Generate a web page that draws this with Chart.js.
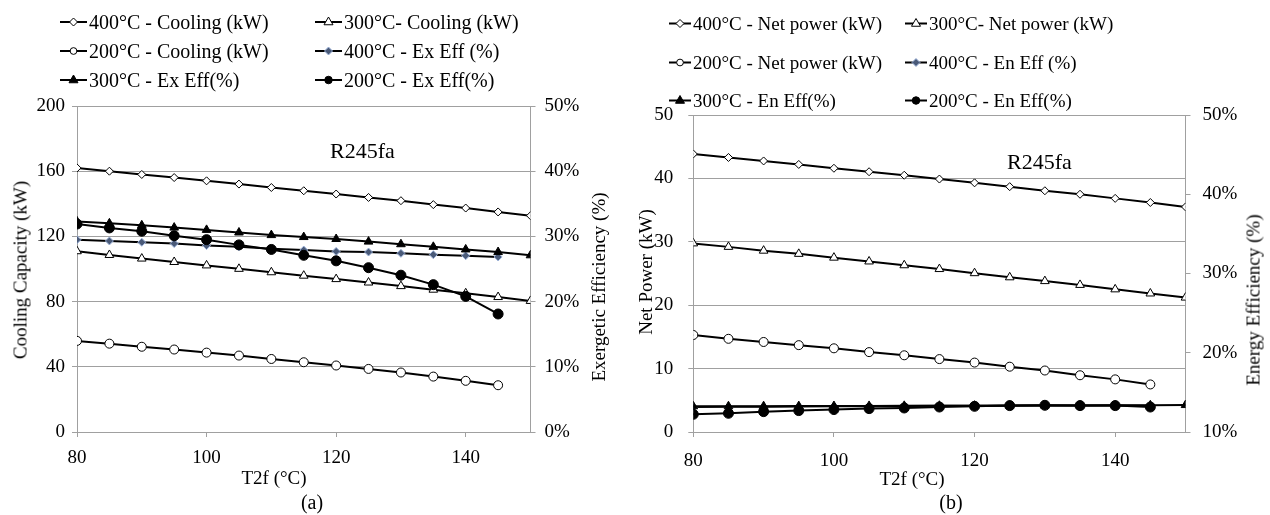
<!DOCTYPE html>
<html>
<head>
<meta charset="utf-8">
<script src="https://cdn.jsdelivr.net/npm/chart.js@4.4.1/dist/chart.umd.min.js"></script>
<style>
  html,body{margin:0;padding:0;background:#fff;}
  #wrap{position:relative;width:1270px;height:515px;overflow:hidden;background:#fff;font-family:"Liberation Serif","Times New Roman",serif;color:#000;}
  canvas{position:absolute;top:0;}
  .t{position:absolute;white-space:nowrap;font-size:19px;line-height:1;}
  .c{transform:translate(-50%,-50%);}
  .rot{transform:translate(-50%,-50%) rotate(-90deg);}
  .leg{position:absolute;display:flex;align-items:center;white-space:nowrap;font-size:20px;line-height:1;transform:translateY(-50%);}
  .leg svg{display:block;margin-right:2px;}
</style>
</head>
<body>
<div id="wrap">
  <canvas id="ca" width="635" height="515" style="left:0;width:635px;height:515px"></canvas>
  <canvas id="cb" width="635" height="515" style="left:635px;width:635px;height:515px"></canvas>
</div>
<script>
// ---------------- DATA ----------------
const t2f = [80, 85, 90, 95, 100, 105, 110, 115, 120, 125, 130, 135, 140, 145, 150];

// Panel (a)
const cooling400 = [162, 160, 158, 156.1, 154.1, 152.1, 150, 148, 146, 143.9, 141.9, 139.5, 137.4, 135, 132.7];
const cooling300 = [110.9, 108.6, 106.4, 104.3, 102.2, 100.1, 98.0, 95.9, 93.8, 91.7, 89.5, 87.3, 85.1, 82.8, 80.4];
const cooling200 = [55.9, 54.2, 52.3, 50.6, 48.7, 46.9, 44.8, 42.8, 40.8, 38.7, 36.5, 34.0, 31.4, 28.7];
const exEff400 = [29.5, 29.3, 29.1, 28.9, 28.6, 28.4, 28.1, 27.9, 27.7, 27.6, 27.4, 27.2, 27.05, 26.85];
const exEff300 = [32.3, 32.0, 31.7, 31.35, 31.0, 30.6, 30.2, 29.9, 29.6, 29.2, 28.8, 28.4, 28.0, 27.6, 27.1];
const exEff200 = [31.9, 31.3, 30.8, 30.1, 29.5, 28.7, 28.0, 27.1, 26.25, 25.2, 24.05, 22.6, 20.8, 18.1];

// Panel (b)
const netPower400 = [43.85, 43.3, 42.75, 42.2, 41.6, 41.05, 40.5, 39.9, 39.3, 38.7, 38.05, 37.5, 36.85, 36.2, 35.5];
const netPower300 = [29.75, 29.2, 28.6, 28.1, 27.5, 26.9, 26.3, 25.7, 25.05, 24.4, 23.8, 23.2, 22.5, 21.85, 21.2];
const netPower200 = [15.3, 14.7, 14.2, 13.7, 13.2, 12.6, 12.1, 11.5, 10.95, 10.3, 9.7, 8.95, 8.3, 7.5];
const enEff400 = [13.15, 13.18, 13.2, 13.22, 13.24, 13.26, 13.28, 13.3, 13.31, 13.32, 13.33, 13.34, 13.34, 13.3];
const enEff300 = [13.24, 13.25, 13.26, 13.27, 13.28, 13.29, 13.3, 13.31, 13.32, 13.33, 13.34, 13.35, 13.36, 13.37, 13.4];
const enEff200 = [12.23, 12.36, 12.57, 12.7, 12.83, 12.95, 13.03, 13.15, 13.24, 13.33, 13.37, 13.33, 13.33, 13.15];

// Axis ticks / labels
const xTicks = {min: 80, max: 150, step: 20};
const yA = {min: 0, max: 200, step: 40};
const yA2 = {min: 0, max: 50, step: 10};
const yB = {min: 0, max: 50, step: 10};
const yB2 = {min: 10, max: 50, step: 10};

const labelsA = ['400°C - Cooling (kW)', '300°C- Cooling (kW)', '200°C - Cooling (kW)', '400°C - Ex Eff (%)', '300°C - Ex Eff(%)', '200°C - Ex Eff(%)'];
const labelsB = ['400°C - Net power (kW)', '300°C- Net power (kW)', '200°C - Net power (kW)', '400°C - En Eff (%)', '300°C - En Eff(%)', '200°C - En Eff(%)'];

// ---------------- STYLES ----------------
const FONT = '"Liberation Serif", "Times New Roman", serif';
Chart.defaults.font.family = FONT;
Chart.defaults.font.size = 19;
Chart.defaults.color = '#000';
const GRID = '#a0a0a0';

const markerStyles = [
  {shape: 'rectRot', r: 4, fill: '#ffffff', stroke: '#000000'},
  {shape: 'triangle', r: 5, fill: '#ffffff', stroke: '#000000'},
  {shape: 'circle', r: 4.5, fill: '#ffffff', stroke: '#000000'},
  {shape: 'rectRot', r: 4, fill: '#4a5a78', stroke: '#9db3da'},
  {shape: 'triangle', r: 5, fill: '#000000', stroke: '#000000'},
  {shape: 'circle', r: 5, fill: '#000000', stroke: '#000000'}
];
const yAxisOf = ['y', 'y', 'y', 'y1', 'y1', 'y1'];

function pts(vals) { return vals.map((v, i) => ({x: t2f[i], y: v})); }

function makeDatasets(series, labels) {
  return series.map((vals, i) => ({
    label: labels[i],
    data: pts(vals),
    yAxisID: yAxisOf[i],
    borderColor: '#000',
    borderWidth: 2,
    tension: 0,
    fill: false,
    pointStyle: markerStyles[i].shape,
    pointRadius: markerStyles[i].r,
    pointHoverRadius: markerStyles[i].r,
    pointBackgroundColor: markerStyles[i].fill,
    pointBorderColor: markerStyles[i].stroke,
    pointBorderWidth: 1,
    order: 6 - i
  }));
}

function makeOptions(o) {
  return {
    responsive: false,
    animation: false,
    events: [],
    layout: {padding: {top: o.top, left: 0, right: 0, bottom: 0}},
    plugins: {legend: {display: false}, tooltip: {enabled: false}},
    scales: {
      x: {
        type: 'linear', min: xTicks.min, max: xTicks.max,
        ticks: {stepSize: xTicks.step, includeBounds: false, padding: o.xPad, maxRotation: 0, autoSkip: false},
        grid: {drawOnChartArea: false, drawTicks: true, tickLength: 5, color: GRID},
        border: {color: GRID, width: 1},
        afterFit: s => { s.height = o.xH; }
      },
      y: {
        position: 'left', min: o.yl.min, max: o.yl.max,
        ticks: {stepSize: o.yl.step, padding: o.ylPad},
        grid: {color: GRID, tickLength: 5, lineWidth: 1},
        border: {color: GRID, width: 1},
        afterFit: s => { s.width = o.ylW; }
      },
      y1: {
        position: 'right', min: o.yr.min, max: o.yr.max,
        ticks: {stepSize: o.yr.step, padding: o.yrPad, callback: v => v + '%'},
        grid: {drawOnChartArea: false, color: GRID, tickLength: 5},
        border: {color: GRID, width: 1},
        afterFit: s => { s.width = o.yrW; }
      }
    }
  };
}

new Chart(document.getElementById('ca'), {
  type: 'line',
  data: {datasets: makeDatasets([cooling400, cooling300, cooling200, exEff400, exEff300, exEff200], labelsA)},
  options: makeOptions({top: 106, xPad: 10, xH: 83, yl: yA, ylPad: 7, ylW: 77, yr: yA2, yrPad: 9, yrW: 104.5})
});

new Chart(document.getElementById('cb'), {
  type: 'line',
  data: {datasets: makeDatasets([netPower400, netPower300, netPower200, enEff400, enEff300, enEff200], labelsB)},
  options: makeOptions({top: 115, xPad: 13, xH: 83, yl: yB, ylPad: 15, ylW: 58.3, yr: yB2, yrPad: 12, yrW: 84.5})
});

// ---------------- HTML TEXT (legends, titles, annotations) ----------------
const wrap = document.getElementById('wrap');
function addText(txt, cls, x, y, size) {
  const d = document.createElement('div');
  d.className = 't ' + cls;
  d.textContent = txt;
  d.style.left = x + 'px';
  d.style.top = y + 'px';
  if (size) d.style.fontSize = size + 'px';
  wrap.appendChild(d);
}
function markerSVG(m, len) {
  const h = 14, cy = 7, cx = len / 2;
  let shape = '';
  if (m.shape === 'rectRot') {
    const r = m.r;
    shape = `<polygon points="${cx},${cy - r} ${cx + r},${cy} ${cx},${cy + r} ${cx - r},${cy}" fill="${m.fill}" stroke="${m.stroke}" stroke-width="1"/>`;
  } else if (m.shape === 'triangle') {
    const r = m.r;
    shape = `<polygon points="${cx},${cy - r} ${cx + r * 0.9},${cy + r * 0.55} ${cx - r * 0.9},${cy + r * 0.55}" fill="${m.fill}" stroke="${m.stroke}" stroke-width="1"/>`;
  } else {
    shape = `<circle cx="${cx}" cy="${cy}" r="${m.r * 0.75}" fill="${m.fill}" stroke="${m.stroke}" stroke-width="1"/>`;
  }
  return `<svg width="${len}" height="${h}" viewBox="0 0 ${len} ${h}"><line x1="0" y1="${cy}" x2="${len}" y2="${cy}" stroke="#000" stroke-width="2"/>${shape}</svg>`;
}
function addLegend(labels, cols, rows, len, size) {
  labels.forEach((lab, i) => {
    const d = document.createElement('div');
    d.className = 'leg';
    d.style.left = cols[i % 2] + 'px';
    d.style.top = rows[Math.floor(i / 2)] + 'px';
    d.style.fontSize = size + 'px';
    d.innerHTML = markerSVG(markerStyles[i], len) + '<span>' + lab + '</span>';
    wrap.appendChild(d);
  });
}
addLegend(labelsA, [60, 315], [22, 51, 80], 27, 20);
addLegend(labelsB, [669, 905], [23, 62, 100], 22, 19);

addText('R245fa', '', 330, 140, 22);
addText('R245fa', '', 1007, 151, 22);
addText('T2f (°C)', 'c', 274, 477);
addText('T2f (°C)', 'c', 912, 478);
addText('(a)', 'c', 312, 502, 20);
addText('(b)', 'c', 951, 502, 20);
addText('Cooling Capacity (kW)', 'rot', 20, 270);
addText('Exergetic Efficiency (%)', 'rot', 598, 287);
addText('Net Power (kW)', 'rot', 645, 272);
addText('Energy Efficiency (%)', 'rot', 1253, 300);
</script>
</body>
</html>
